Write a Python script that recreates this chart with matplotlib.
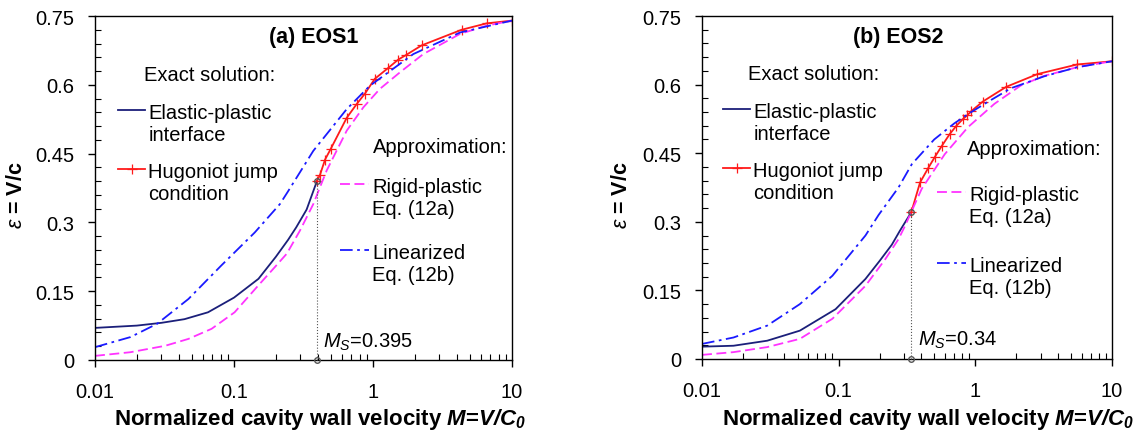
import numpy as np
import matplotlib.pyplot as plt
from matplotlib.ticker import MultipleLocator, LogLocator, NullFormatter, FuncFormatter

plt.rcParams['font.family'] = ['Liberation Sans', 'DejaVu Sans']
plt.rcParams['mathtext.fontset'] = 'custom'
plt.rcParams['mathtext.rm'] = 'Liberation Sans'
plt.rcParams['mathtext.it'] = 'Liberation Sans:italic'
plt.rcParams['mathtext.bf'] = 'Liberation Sans:bold'
plt.rcParams['mathtext.bfit'] = 'Liberation Sans:italic:bold'

# * Data
# (a) EOS1
ms_1 = 0.395
eps_s_1 = 0.39
m_ep_1 = [0.01, 0.02, 0.03, 0.044, 0.065, 0.1, 0.15, 0.2, 0.245, 0.28, 0.333, 0.395]
e_ep_1 = [0.070, 0.075, 0.081, 0.089, 0.104, 0.136, 0.177, 0.225, 0.262, 0.289, 0.328, 0.390]
m_hug_1 = [0.395, 0.416, 0.452, 0.496, 0.647, 0.763, 0.876, 1.03, 1.29, 1.52, 1.73, 2.24, 4.34, 6.58, 10]
e_hug_1 = [0.390, 0.404, 0.437, 0.460, 0.528, 0.558, 0.581, 0.613, 0.637, 0.655, 0.665, 0.686, 0.720, 0.734, 0.740]
m_rp_1 = [0.01, 0.018, 0.032, 0.047, 0.069, 0.101, 0.149, 0.196, 0.24, 0.298, 0.372, 0.464,
          0.647, 0.853, 1.12, 1.56, 2.3, 4.23, 6.58, 10]
e_rp_1 = [0.009, 0.017, 0.031, 0.046, 0.068, 0.104, 0.162, 0.202, 0.232, 0.282, 0.340, 0.413,
          0.500, 0.551, 0.591, 0.627, 0.667, 0.711, 0.729, 0.740]
m_lin_1 = [0.01, 0.018, 0.028, 0.047, 0.081, 0.141, 0.214, 0.244, 0.372, 0.647, 0.95, 1.95, 4.23, 10]
e_lin_1 = [0.028, 0.050, 0.079, 0.133, 0.206, 0.278, 0.340, 0.367, 0.456, 0.547, 0.598, 0.667, 0.714, 0.740]

# (b) EOS2
ms_2 = 0.34
eps_s_2 = 0.321
m_ep_2 = [0.01, 0.017, 0.03, 0.052, 0.095, 0.157, 0.2, 0.245, 0.28, 0.34]
e_ep_2 = [0.027, 0.029, 0.040, 0.062, 0.109, 0.175, 0.215, 0.250, 0.280, 0.321]
m_hug_2 = [0.34, 0.394, 0.453, 0.506, 0.566, 0.65, 0.727, 0.813, 0.874, 0.934, 1.135, 1.68, 2.85, 5.56, 10]
e_hug_2 = [0.321, 0.386, 0.418, 0.442, 0.465, 0.492, 0.510, 0.525, 0.533, 0.542, 0.563, 0.595, 0.623, 0.644, 0.651]
m_rp_2 = [0.01, 0.017, 0.03, 0.052, 0.09, 0.157, 0.219, 0.274, 0.307, 0.405, 0.598, 0.884,
          1.38, 2.15, 3.18, 5.56, 10]
e_rp_2 = [0.009, 0.015, 0.026, 0.044, 0.088, 0.160, 0.218, 0.262, 0.292, 0.372, 0.448, 0.507,
          0.558, 0.598, 0.619, 0.638, 0.651]
m_lin_2 = [0.01, 0.017, 0.03, 0.052, 0.09, 0.157, 0.196, 0.274, 0.343, 0.5, 0.7, 0.9, 1.2, 1.82,
           3.18, 5.56, 10]
e_lin_2 = [0.033, 0.047, 0.073, 0.120, 0.182, 0.270, 0.315, 0.375, 0.426, 0.480, 0.515, 0.537, 0.560,
           0.592, 0.618, 0.638, 0.651]

C_EP = '#1b1f7a'
C_HUG = '#ff1a1a'
C_RP = '#ff33ff'
C_LIN = '#1a1aff'
FS = 14.5
W, H = 1145, 435


# * Function
# pixel position of the figure -> axes fraction
def px(ax, x, y):
    pos = ax.get_position()
    return (x / W - pos.x0) / pos.width, ((1 - y / H) - pos.y0) / pos.height


def top_align(leg):
    # keep the key line on the first line of a two-line label
    for col in leg._legend_handle_box.get_children():
        for item in col.get_children():
            item.align = 'top'


def draw_panel(ax, title, ms, eps_s, m_ep, e_ep, m_hug, e_hug, m_rp, e_rp, m_lin, e_lin, lay):
    l_ep, = ax.plot(m_ep, e_ep, color=C_EP, lw=1.3)
    l_hug, = ax.plot(m_hug, e_hug, color=C_HUG, lw=1.3, marker='+', ms=6.5, mew=0.9)
    l_rp, = ax.plot(m_rp, e_rp, color=C_RP, lw=1.3, ls=(0, (5.5, 2.5)))
    l_lin, = ax.plot(m_lin, e_lin, color=C_LIN, lw=1.3, ls=(0, (7, 2.5, 1.5, 2.5)))
    ax.plot([ms, ms], [0, eps_s], color='#555555', lw=0.8, ls=':',
            marker='o', ms=4, mfc='none', mec='#555555', clip_on=False, zorder=5)

    ax.set_xscale('log')
    ax.set_xlim(0.01, 10)
    ax.set_ylim(0, 0.75)
    ax.xaxis.set_major_locator(LogLocator(base=10))
    ax.xaxis.set_minor_locator(LogLocator(base=10, subs=np.arange(2, 10)))
    ax.xaxis.set_minor_formatter(NullFormatter())
    ax.xaxis.set_major_formatter(FuncFormatter(lambda v, p: f'{v:g}'))
    ax.yaxis.set_major_locator(MultipleLocator(0.15))
    ax.yaxis.set_minor_locator(MultipleLocator(0.03))
    ax.yaxis.set_major_formatter(FuncFormatter(lambda v, p: f'{v:g}'))
    ax.tick_params(which='major', direction='out', length=5, width=1, labelsize=FS)
    ax.tick_params(which='minor', direction='in', length=4, width=0.8)
    ax.tick_params(axis='x', which='major', pad=11)
    ax.tick_params(axis='y', which='major', pad=10)
    for s in ax.spines.values():
        s.set_linewidth(1.0)

    ax.set_xlabel(r'Normalized cavity wall velocity $\mathbfit{M}$=$\mathbfit{V/C}_{\mathbfit{0}}$',
                  fontsize=16, fontweight='bold')
    ax.xaxis.set_label_coords(*px(ax, *lay['xlabel']))
    ax.set_ylabel(r'$\varepsilon$ = V/c', fontsize=15.5, fontweight='bold')
    ax.yaxis.set_label_coords(*px(ax, *lay['ylabel']))

    ax.text(*px(ax, *lay['title']), title, transform=ax.transAxes, ha='center', va='center',
            fontsize=15.5, fontweight='bold')
    ax.text(*px(ax, *lay['exact']), 'Exact solution:', transform=ax.transAxes,
            ha='left', va='center', fontsize=FS)
    ax.text(*px(ax, *lay['approx']), 'Approximation:', transform=ax.transAxes,
            ha='left', va='center', fontsize=FS)
    ax.text(*px(ax, *lay['ms']), r'$M_S$=' + f'{ms:g}', transform=ax.transAxes,
            ha='left', va='center', fontsize=FS)

    leg1 = ax.legend([l_ep, l_hug], ['Elastic-plastic\ninterface', 'Hugoniot jump\ncondition'],
                     loc='upper left', bbox_to_anchor=px(ax, *lay['leg1']), frameon=False,
                     fontsize=FS, handlelength=1.35, handletextpad=0.15, borderpad=0,
                     borderaxespad=0, labelspacing=0.9)
    top_align(leg1)
    ax.add_artist(leg1)
    leg2 = ax.legend([l_rp, l_lin], ['Rigid-plastic\nEq. (12a)', 'Linearized\nEq. (12b)'],
                     loc='upper left', bbox_to_anchor=px(ax, *lay['leg2']), frameon=False,
                     fontsize=FS, handlelength=1.45, handletextpad=0.15, borderpad=0,
                     borderaxespad=0, labelspacing=lay['sp2'])
    top_align(leg2)


# * Plot
fig = plt.figure(figsize=(W / 100, H / 100), dpi=100)
ax1 = fig.add_axes([95 / W, 1 - 361 / H, 417 / W, 344 / H])
ax2 = fig.add_axes([702 / W, 1 - 360 / H, 410 / W, 343 / H])

lay_1 = dict(xlabel=(320, 407), ylabel=(27, 195), title=(314, 38), exact=(144, 76),
             approx=(373, 148), ms=(323, 342), leg1=(118, 104), leg2=(340, 178), sp2=1.25)
lay_2 = dict(xlabel=(928, 407), ylabel=(632, 195), title=(898, 38), exact=(748, 74),
             approx=(967, 150), ms=(918, 340), leg1=(723, 103), leg2=(937, 186), sp2=1.5)

draw_panel(ax1, '(a) EOS1', ms_1, eps_s_1, m_ep_1, e_ep_1, m_hug_1, e_hug_1,
           m_rp_1, e_rp_1, m_lin_1, e_lin_1, lay_1)
draw_panel(ax2, '(b) EOS2', ms_2, eps_s_2, m_ep_2, e_ep_2, m_hug_2, e_hug_2,
           m_rp_2, e_rp_2, m_lin_2, e_lin_2, lay_2)

plt.savefig('out.png', dpi=100)
